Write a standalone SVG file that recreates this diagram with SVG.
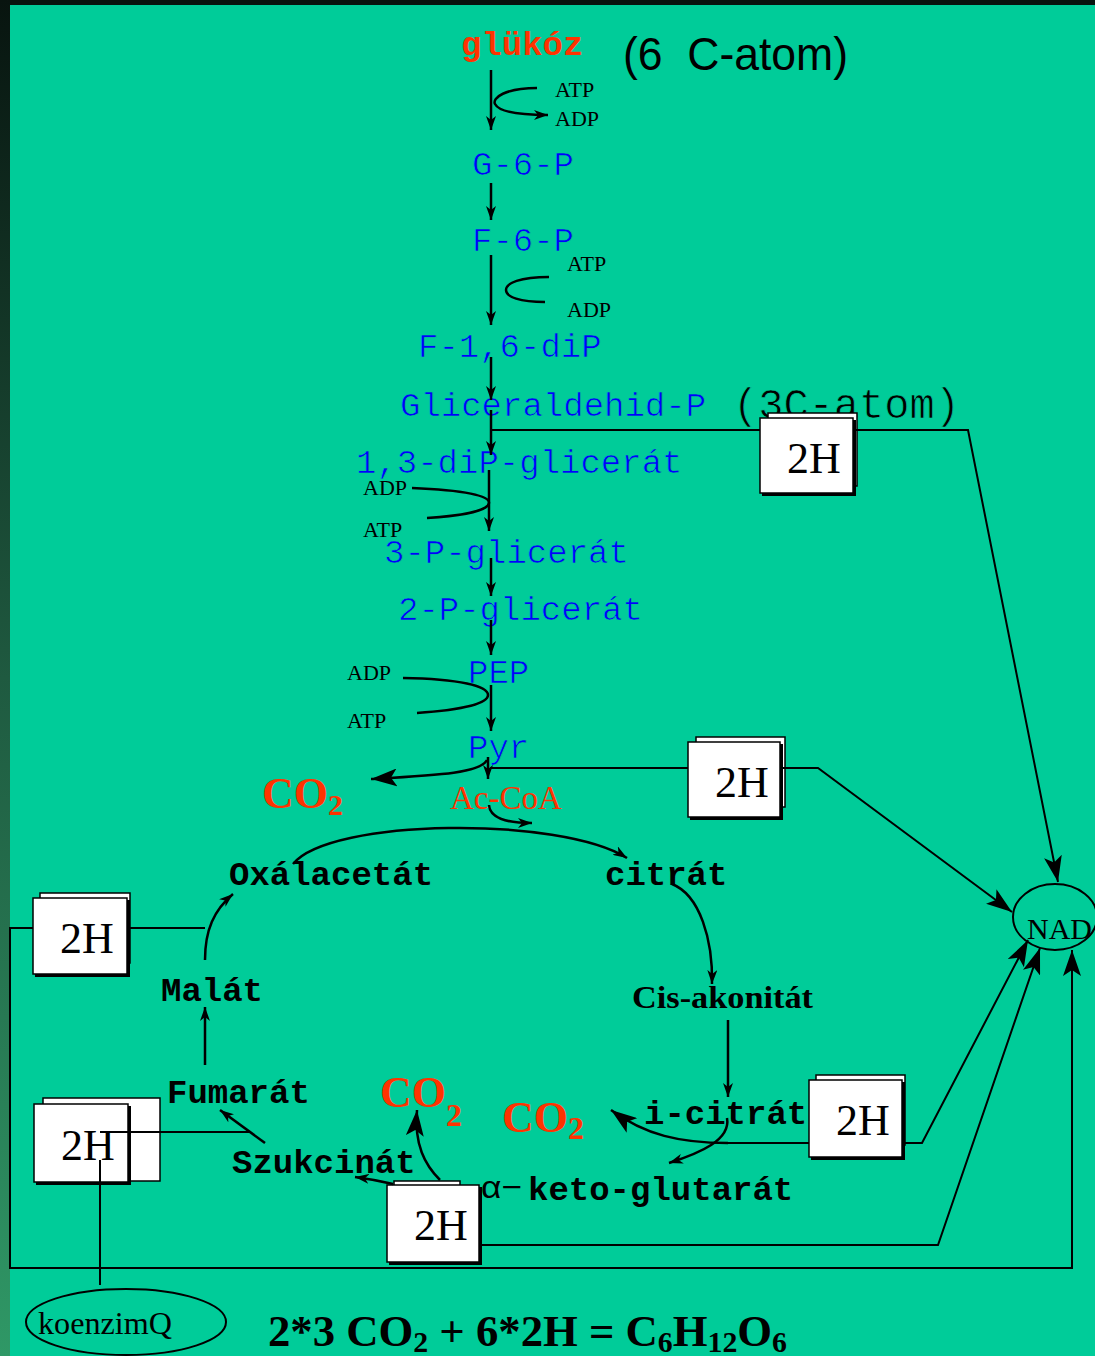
<svg xmlns="http://www.w3.org/2000/svg" width="1095" height="1356" viewBox="0 0 1095 1356">
  <defs>
    <linearGradient id="edge" x1="0" y1="0" x2="0" y2="1">
      <stop offset="0" stop-color="#08140f"/>
      <stop offset="0.5" stop-color="#1f5a40"/>
      <stop offset="1" stop-color="#2f9866"/>
    </linearGradient>
    <marker id="sm" viewBox="0 0 14 10" refX="14" refY="5" markerWidth="14" markerHeight="10" markerUnits="userSpaceOnUse" orient="auto">
      <path d="M0,0 L14,5 L0,10 L4,5 Z" fill="#000"/>
    </marker>
    <marker id="big" viewBox="0 0 26 18" refX="26" refY="9" markerWidth="26" markerHeight="18" markerUnits="userSpaceOnUse" orient="auto">
      <path d="M0,0 L26,9 L0,18 L6,9 Z" fill="#000"/>
    </marker>
    <style>
      .mono{font-family:"Liberation Mono","Courier New",monospace;font-size:34px}
      .blue{fill:#0000ff;stroke:#00cc99;stroke-width:0.7}
      .thin{stroke:#00cc99;stroke-width:0.7}
      .blk{fill:#000;font-weight:bold}
      .red{fill:#ff3300}
      .tm{font-family:"Liberation Serif","Times New Roman",serif}
      .small{font-family:"Liberation Serif","Times New Roman",serif;font-size:22px;fill:#000}
      .co2{font-family:"Liberation Serif","Times New Roman",serif;font-weight:bold;font-size:44px;fill:#ff3300}
      .ln{fill:none;stroke:#000;stroke-width:2.5}
      .lt{fill:none;stroke:#000;stroke-width:2}
      .back{fill:#fff;stroke:#000;stroke-width:1.5}
      .shadow{fill:#000}
      .front{fill:#fff;stroke:#000;stroke-width:1.5}
      .h2{font-family:"Liberation Serif","Times New Roman",serif;font-size:44px;fill:#000}
    </style>
  </defs>

  <!-- backdrop -->
  <rect x="0" y="0" width="1095" height="1356" fill="#00cc99"/>
  <rect x="0" y="0" width="1095" height="5" fill="#08140f"/>
  <rect x="0" y="0" width="10" height="1356" fill="url(#edge)"/>

  <!-- glycolysis labels -->
  <g id="glukoz"><text class="mono red" x="461" y="55" font-weight="bold">glükóz</text></g>
  <g id="c6-note"><text x="623" y="70" font-family="Liberation Sans, Arial, sans-serif" font-size="47" fill="#000" textLength="225" lengthAdjust="spacingAndGlyphs" xml:space="preserve">(6  C-atom)</text></g>
  <g id="g6p"><text class="mono blue" x="472" y="175">G-6-P</text></g>
  <g id="f6p"><text class="mono blue" x="472" y="251">F-6-P</text></g>
  <g id="f16dip"><text class="mono blue" x="418" y="357">F-1,6-diP</text></g>
  <g id="gliceraldehid"><text class="mono blue" x="400" y="416">Gliceraldehid-P</text>
    <text class="thin" x="733" y="418" font-family="Liberation Mono, Courier New, monospace" font-size="42" fill="#000">(3C-atom)</text></g>
  <g id="dipglicerat"><text class="mono blue" x="356" y="473">1,3-diP-glicerát</text></g>
  <g id="p3glicerat"><text class="mono blue" x="384" y="563">3-P-glicerát</text></g>
  <g id="p2glicerat"><text class="mono blue" x="398" y="620">2-P-glicerát</text></g>
  <g id="pep"><text class="mono blue" x="468" y="683">PEP</text></g>
  <g id="pyr"><text class="mono blue" x="468" y="758">Pyr</text></g>

  <!-- ATP / ADP side labels -->
  <g id="atp-adp">
    <text class="small" x="555" y="97">ATP</text>
    <text class="small" x="555" y="126">ADP</text>
    <text class="small" x="567" y="271">ATP</text>
    <text class="small" x="567" y="317">ADP</text>
    <text class="small" x="363" y="495">ADP</text>
    <text class="small" x="363" y="537">ATP</text>
    <text class="small" x="347" y="680">ADP</text>
    <text class="small" x="347" y="728">ATP</text>
  </g>

  <!-- CO2 and acetyl-CoA -->
  <g id="co2-pyr"><text class="co2" x="262" y="808">CO<tspan font-size="30" dy="7">2</tspan></text></g>
  <g id="accoa"><text class="tm red" x="450" y="809" font-size="33">Ac-CoA</text></g>
  <g id="co2-akg"><text class="co2" x="380" y="1107">CO<tspan font-size="32" dy="19">2</tspan></text></g>
  <g id="co2-icit"><text class="co2" x="502" y="1132">CO<tspan font-size="32" dy="7">2</tspan></text></g>

  <!-- citric acid cycle -->
  <g id="oxalacetat"><text class="mono blk" x="229" y="885">Oxálacetát</text></g>
  <g id="citrat"><text class="mono blk" x="605" y="885">citrát</text></g>
  <g id="cisakonitat"><text class="tm" x="632" y="1008" font-size="32" font-weight="bold" fill="#000" textLength="181" lengthAdjust="spacingAndGlyphs">Cis-akonitát</text></g>
  <g id="icitrat"><text class="mono blk" x="644" y="1124">i-citrát</text></g>
  <g id="ketoglutarat"><text x="481" y="1198" font-family="Liberation Sans, Arial, sans-serif" font-size="32" fill="#000" textLength="41" lengthAdjust="spacingAndGlyphs">α−</text><text class="mono blk" x="528" y="1200">keto-glutarát</text></g>
  <g id="szukcinat"><text class="mono blk" x="232" y="1173">Szukcinát</text></g>
  <g id="fumarat"><text class="mono blk" x="167" y="1103">Fumarát</text></g>
  <g id="malat"><text class="mono blk" x="161" y="1001">Malát</text></g>

  <!-- electron carriers -->
  <g id="nad"><ellipse cx="1055" cy="917" rx="42" ry="33" class="lt"/><text class="tm" x="1027" y="939" font-size="30" fill="#000">NAD</text></g>
  <g id="koenzimq"><ellipse cx="126" cy="1322" rx="100" ry="33" class="lt"/><text class="tm" x="38" y="1334" font-size="31" fill="#000" textLength="134" lengthAdjust="spacingAndGlyphs">koenzimQ</text></g>

  <!-- 2H hydrogen boxes -->
  <g id="h2-gap">
    <rect class="back" x="768" y="413" width="89" height="73"/>
    <rect class="shadow" x="762" y="420" width="94" height="76"/>
    <rect class="front" x="760" y="418" width="93" height="75"/>
    <text class="h2" x="787" y="473">2H</text>
  </g>
  <g id="h2-pyr">
    <rect class="back" x="696" y="737" width="89" height="70"/>
    <rect class="shadow" x="690" y="744" width="93" height="76"/>
    <rect class="front" x="688" y="742" width="92" height="75"/>
    <text class="h2" x="715" y="797">2H</text>
  </g>
  <g id="h2-malat">
    <rect class="back" x="40" y="893" width="90" height="70"/>
    <rect class="shadow" x="35" y="900" width="95" height="77"/>
    <rect class="front" x="33" y="898" width="94" height="76"/>
    <text class="h2" x="60" y="953">2H</text>
  </g>
  <g id="h2-szukcinat">
    <rect class="back" x="43" y="1098" width="117" height="83"/>
    <rect class="shadow" x="36" y="1106" width="95" height="79"/>
    <rect class="front" x="34" y="1104" width="94" height="78"/>
    <text class="h2" x="61" y="1160">2H</text>
  </g>
  <g id="h2-akg">
    <rect class="back" x="394" y="1181" width="66" height="10"/>
    <rect class="shadow" x="389" y="1187" width="93" height="78"/>
    <rect class="front" x="387" y="1185" width="92" height="77"/>
    <text class="h2" x="414" y="1240">2H</text>
  </g>
  <g id="h2-icitrat">
    <rect class="back" x="816" y="1075" width="89" height="70"/>
    <rect class="shadow" x="811" y="1082" width="94" height="78"/>
    <rect class="front" x="809" y="1080" width="93" height="77"/>
    <text class="h2" x="836" y="1135">2H</text>
  </g>

  <!-- summary equation -->
  <g id="equation">
    <text class="tm" x="268" y="1346" font-size="45" font-weight="bold" fill="#000" textLength="519" lengthAdjust="spacingAndGlyphs">2*3 CO<tspan font-size="30" dy="6">2</tspan><tspan dy="-6"> + 6*2H = C</tspan><tspan font-size="30" dy="6">6</tspan><tspan dy="-6">H</tspan><tspan font-size="30" dy="6">12</tspan><tspan dy="-6">O</tspan><tspan font-size="30" dy="6">6</tspan></text>
  </g>

  <!-- connectors -->
  <g id="connectors">
    <!-- glycolysis chain -->
    <path class="ln" d="M491,70 V130" marker-end="url(#sm)"/>
    <path class="ln" d="M537,88 C505,88 492,98 495,104 C499,112 520,115 548,115" marker-end="url(#sm)"/>
    <path class="ln" d="M491,183 V220" marker-end="url(#sm)"/>
    <path class="ln" d="M491,255 V325" marker-end="url(#sm)"/>
    <path class="ln" d="M549,277 C520,277 506,283 506,290 C506,297 520,302 545,302"/>
    <path class="ln" d="M491,357 V400" marker-end="url(#sm)"/>
    <path class="ln" d="M491,410 V455" marker-end="url(#sm)"/>
    <path class="ln" d="M489,470 V531" marker-end="url(#sm)"/>
    <path class="ln" d="M412,488 C465,490 490,496 489,503 C488,511 460,516 427,518"/>
    <path class="ln" d="M491,558 V596" marker-end="url(#sm)"/>
    <path class="ln" d="M491,620 V655" marker-end="url(#sm)"/>
    <path class="ln" d="M403,678 C460,679 488,686 488,695 C488,704 460,710 417,713"/>
    <path class="ln" d="M491,685 V731" marker-end="url(#sm)"/>
    <!-- pyruvate branch -->
    <path class="ln" d="M488,757 V779" marker-end="url(#sm)"/>
    <path class="ln" d="M487,760 C480,773 440,775 371,779" marker-end="url(#big)"/>
    <path class="ln" d="M489,805 C490,818 505,823 532,823" marker-end="url(#sm)"/>
    <!-- cycle -->
    <path class="ln" d="M293,864 C330,818 560,816 627,858" marker-end="url(#sm)"/>
    <path class="ln" d="M672,884 C700,895 713,940 712,984" marker-end="url(#sm)"/>
    <path class="ln" d="M728,1020 V1097" marker-end="url(#sm)"/>
    <path class="ln" d="M728,1143 C680,1143 645,1135 611,1110" marker-end="url(#big)"/>
    <path class="ln" d="M727,1118 C731,1140 700,1153 669,1163" marker-end="url(#sm)"/>
    <path class="ln" d="M440,1180 C425,1165 414,1145 417,1110" marker-end="url(#big)"/>
    <path class="ln" d="M393,1184 C380,1181 370,1179 355,1177" marker-end="url(#sm)"/>
    <path class="ln" d="M265,1143 L220,1110" marker-end="url(#sm)"/>
    <path class="ln" d="M205,1065 V1007" marker-end="url(#sm)"/>
    <path class="ln" d="M205,960 C205,930 214,910 233,894" marker-end="url(#sm)"/>
    <!-- hydrogen transfer lines -->
    <path class="lt" d="M490,430 H760"/>
    <path class="lt" d="M853,430 H968 L1058,882" marker-end="url(#big)"/>
    <path class="lt" d="M490,768 H688"/>
    <path class="lt" d="M780,768 H818 L1012,912" marker-end="url(#big)"/>
    <path class="lt" d="M728,1143 H809"/>
    <path class="lt" d="M902,1143 H922 L1028,940" marker-end="url(#big)"/>
    <path class="lt" d="M479,1245 H938 L1040,948" marker-end="url(#big)"/>
    <path class="lt" d="M127,928 H205"/>
    <path class="lt" d="M33,928 H10 V1268 H1072 V950" marker-end="url(#big)"/>
    <path class="lt" d="M100,1132 H250"/>
    <path class="lt" d="M100,1160 V1285"/>
  </g>
</svg>
